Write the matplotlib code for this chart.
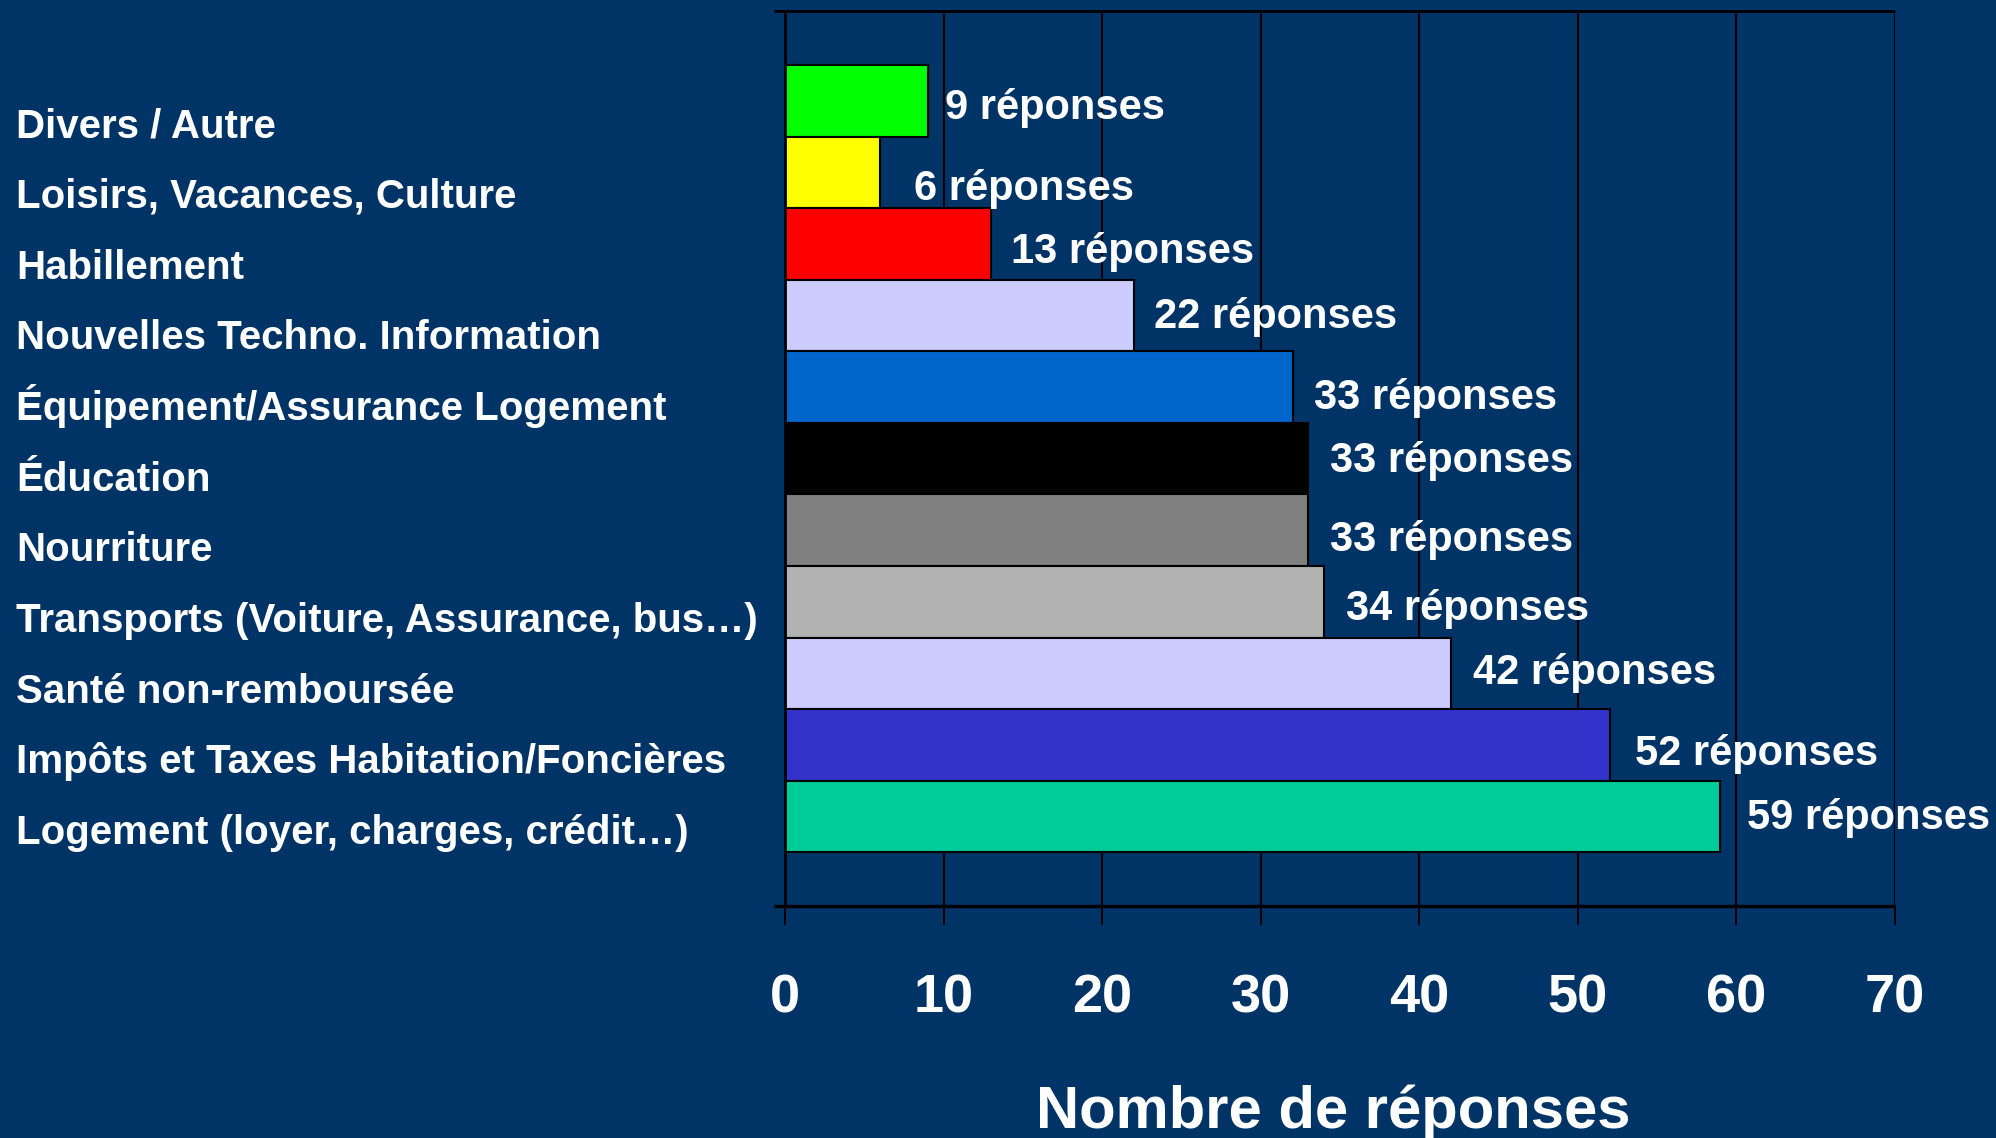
import matplotlib
matplotlib.use("Agg")
import matplotlib.pyplot as plt

# ---------------- data ----------------
categories = [
    "Divers / Autre",
    "Loisirs, Vacances, Culture",
    "Habillement",
    "Nouvelles Techno. Information",
    "Équipement/Assurance Logement",
    "Éducation",
    "Nourriture",
    "Transports (Voiture, Assurance, bus…)",
    "Santé non-remboursée",
    "Impôts et Taxes Habitation/Foncières",
    "Logement (loyer, charges, crédit…)",
]
values = [9, 6, 13, 22, 32, 33, 33, 34, 42, 52, 59]          # bar lengths as drawn
label_counts = [9, 6, 13, 22, 33, 33, 33, 34, 42, 52, 59]    # numbers written in labels
colors = ["#00FF00", "#FFFF00", "#FF0000", "#CCCCFF", "#0066CC", "#000000",
          "#808080", "#B2B2B2", "#CCCCFF", "#3333CC", "#00CC99"]
xticks = [0, 10, 20, 30, 40, 50, 60, 70]
xlabel = "Nombre de réponses"

# label nudges (layout only, data units)
label_dx = [1.08, 2.12, 1.26, 1.25, 1.33, 1.37, 1.37, 1.37, 1.41, 1.6, 1.7]
label_dy = [-0.26, -0.38, -0.27, -0.17, -0.31, -0.19, -0.29, -0.26, -0.15, -0.28, -0.17]

BG = "#003366"
FONT = "Liberation Sans"

W, H = 1996, 1138
fig = plt.figure(figsize=(W / 100, H / 100), dpi=100, facecolor=BG)
ax_left, ax_right, ax_top, ax_bot = 785.3, 1894.8, 11.0, 906.0
ax = fig.add_axes([ax_left / W, 1 - ax_bot / H, (ax_right - ax_left) / W, (ax_bot - ax_top) / H])
ax.set_facecolor(BG)

n = len(categories)
ypos = [n - 1 - i for i in range(n)]

ax.barh(ypos, values, height=1.0, color=colors, edgecolor="black", linewidth=1.5, zorder=3)

ax.set_xlim(0, 70)
ax.set_ylim(-1.25, 11.255)
ax.set_axisbelow(True)
ax.xaxis.grid(True, color="black", linewidth=1.5)
ax.yaxis.grid(False)

for s in ["top", "bottom", "right"]:
    ax.spines[s].set_visible(False)
ax.spines["left"].set_color("black")
ax.spines["left"].set_linewidth(2.0)
ax.spines["left"].set_zorder(4)

ext = 11.0 / (ax_right - ax_left)
for yy, lw in [(0, 2.4), (1, 2.0)]:
    ax.plot([-ext, 1], [yy, yy], transform=ax.transAxes, color="black",
            linewidth=lw, clip_on=False, zorder=5, solid_capstyle="butt")

# x ticks
ax.set_xticks(xticks)
ax.set_xticklabels([str(t) for t in xticks])
ax.tick_params(axis="x", direction="out", length=13.7, width=1.4, color="black",
               pad=35, labelsize=39, labelcolor="white")
for lab in ax.get_xticklabels():
    lab.set_fontfamily(FONT)
    lab.set_fontweight("bold")

# category labels as y tick labels, left aligned at figure left
label_pos = [y * 0.9871 - 0.381 for y in ypos]
ax.set_yticks(label_pos)
ax.set_yticklabels(categories)
pad_pt = (ax_left - 16.0) * 72 / 100
ax.tick_params(axis="y", length=0, pad=pad_pt, labelsize=29, labelcolor="white")
for lab in ax.get_yticklabels():
    lab.set_horizontalalignment("left")
    lab.set_verticalalignment("baseline")
    lab.set_fontfamily(FONT)
    lab.set_fontweight("bold")

# value labels
for y, v, c, dx, dy in zip(ypos, values, label_counts, label_dx, label_dy):
    ax.text(v + dx, y + dy, f"{c} réponses", ha="left", va="baseline",
            color="white", fontsize=30, fontweight="bold",
            fontfamily=FONT, zorder=6, clip_on=False)

# axis title
fig.text(1333 / W, 1 - 1128.3 / H, xlabel, ha="center", va="baseline",
         color="white", fontsize=43, fontweight="bold", fontfamily=FONT)

fig.savefig("out.png", dpi=100, facecolor=BG)
